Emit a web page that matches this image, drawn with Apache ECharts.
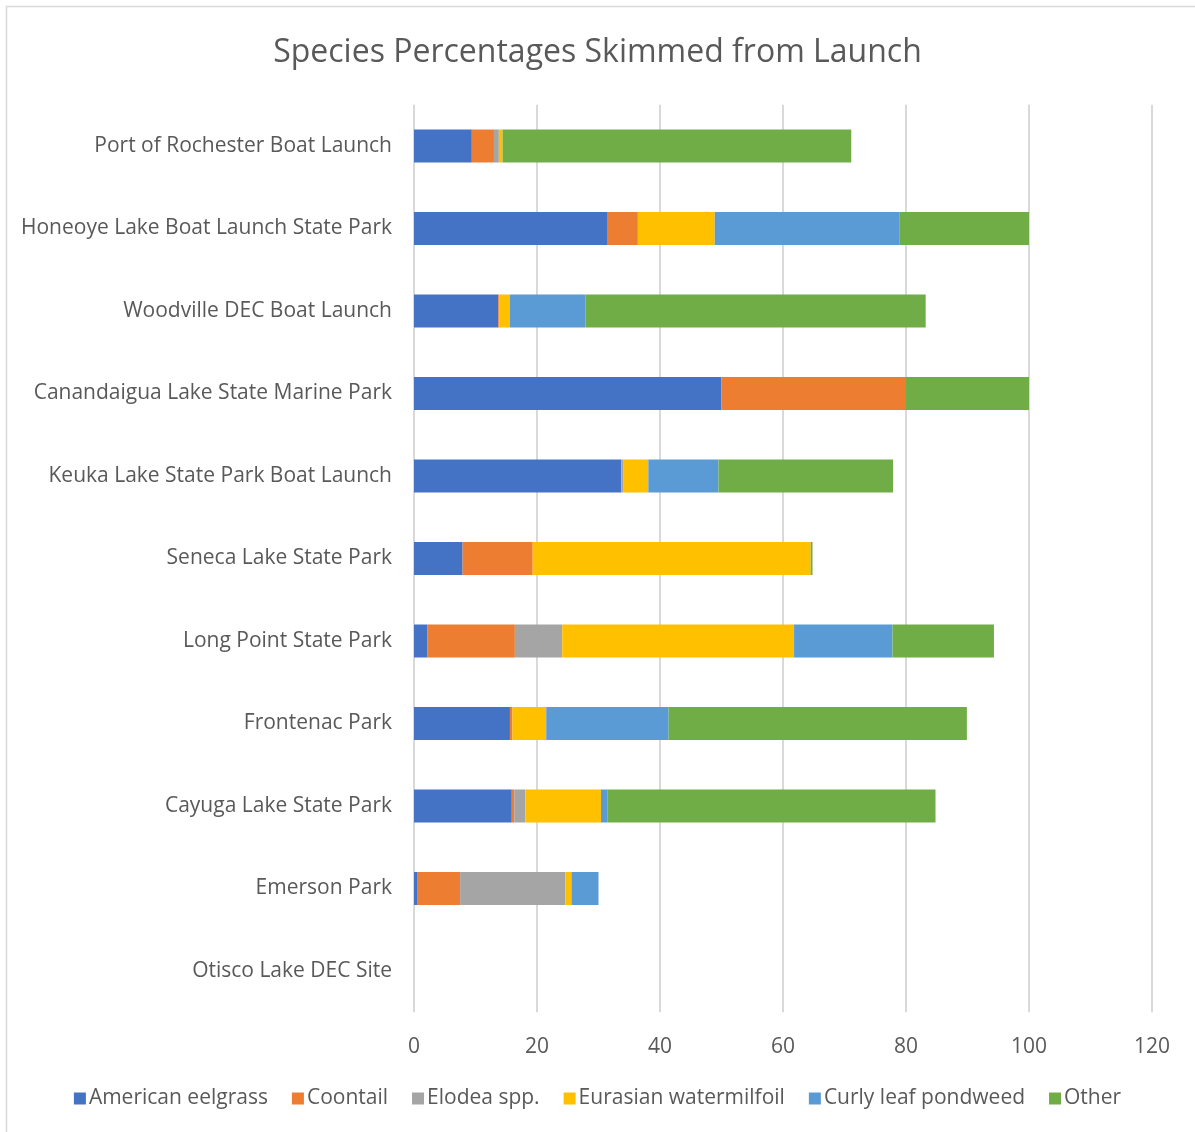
<!DOCTYPE html>
<html>
<head>
<meta charset="utf-8">
<script src="https://cdn.jsdelivr.net/npm/echarts@6/dist/echarts.min.js"></script>
<style>
  html, body { margin: 0; padding: 0; background: #fff; }
  #chart { width: 1195px; height: 1132px; }
</style>
</head>
<body>
<div id="chart"></div>
<script>
// Launch sites, top to bottom
const sites = [
  'Port of Rochester Boat Launch',
  'Honeoye Lake Boat Launch State Park',
  'Woodville DEC Boat Launch',
  'Canandaigua Lake State Marine Park',
  'Keuka Lake State Park Boat Launch',
  'Seneca Lake State Park',
  'Long Point State Park',
  'Frontenac Park',
  'Cayuga Lake State Park',
  'Emerson Park',
  'Otisco Lake DEC Site'
];

// Percentage of each species skimmed at each site
const americanEelgrass    = [9.4, 31.5, 13.7, 50.0, 33.7,  7.9,  2.2, 15.6, 15.9,  0.6, 0];
const coontail            = [3.6,  4.9,  0.2, 30.0,  0.0, 11.4, 14.2,  0.4,  0.4,  6.9, 0];
const elodea              = [0.8,  0.0,  0.0,  0.0,  0.3,  0.0,  7.7,  0.0,  1.8, 17.1, 0];
const eurasianWatermilfoil= [0.6, 12.5,  1.7,  0.0,  4.1, 45.2, 37.7,  5.5, 12.3,  1.0, 0];
const curlyLeafPondweed   = [0.0, 30.0, 12.3,  0.0, 11.4,  0.0, 16.0, 19.9,  1.1,  4.4, 0];
const other               = [56.7, 21.1, 55.3, 20.0, 28.4,  0.3, 16.5, 48.5, 53.3,  0.0, 0];

const xTicks = [0, 20, 40, 60, 80, 100, 120];

const seriesDefs = [
  { name: 'American eelgrass',    data: americanEelgrass,     color: '#4472c4' },
  { name: 'Coontail',             data: coontail,             color: '#ed7d31' },
  { name: 'Elodea spp.',          data: elodea,               color: '#a5a5a5' },
  { name: 'Eurasian watermilfoil',data: eurasianWatermilfoil, color: '#ffc000' },
  { name: 'Curly leaf pondweed',  data: curlyLeafPondweed,    color: '#5b9bd5' },
  { name: 'Other',                data: other,                color: '#70ad47' }
];

const FONT = '"Open Sans", "Noto Sans", sans-serif';
const chart = echarts.init(document.getElementById('chart'), null, { renderer: 'canvas' });

chart.setOption({
  backgroundColor: '#ffffff',
  animation: false,
  graphic: [{
    type: 'rect',
    shape: { x: 6.5, y: 6.5, width: 1300, height: 1300 },
    style: { fill: 'none', stroke: '#d9d9d9', lineWidth: 1.5 },
    silent: true
  }],
  title: {
    text: 'Species Percentages Skimmed from Launch',
    left: 'center',
    top: 32,
    textStyle: { fontFamily: FONT, fontSize: 32, fontWeight: 'normal', color: '#595959' }
  },
  legend: {
    bottom: 18,
    left: 'center',
    itemWidth: 12,
    itemHeight: 12,
    itemGap: 24,
    icon: 'rect',
    textStyle: { fontFamily: FONT, fontSize: 21, color: '#595959', padding: [0, 0, 0, -2] },
    data: seriesDefs.map(s => s.name)
  },
  grid: { left: 414, width: 738, top: 104.75, height: 907.5, containLabel: false },
  xAxis: {
    type: 'value',
    min: xTicks[0],
    max: xTicks[xTicks.length - 1],
    interval: 20,
    axisLine: { show: false },
    axisTick: { show: false },
    splitLine: { lineStyle: { color: '#d9d9d9', width: 2 } },
    axisLabel: { fontFamily: FONT, fontSize: 21, color: '#595959', margin: 24 }
  },
  yAxis: {
    type: 'category',
    inverse: true,
    data: sites,
    axisLine: { show: false },
    axisTick: { show: false },
    axisLabel: { fontFamily: FONT, fontSize: 21, color: '#595959', margin: 22, padding: [7, 0, 0, 0] }
  },
  series: seriesDefs.map(s => ({
    name: s.name,
    type: 'bar',
    stack: 'total',
    barWidth: '40%',
    data: s.data,
    itemStyle: { color: s.color }
  }))
});
</script>
</body>
</html>
